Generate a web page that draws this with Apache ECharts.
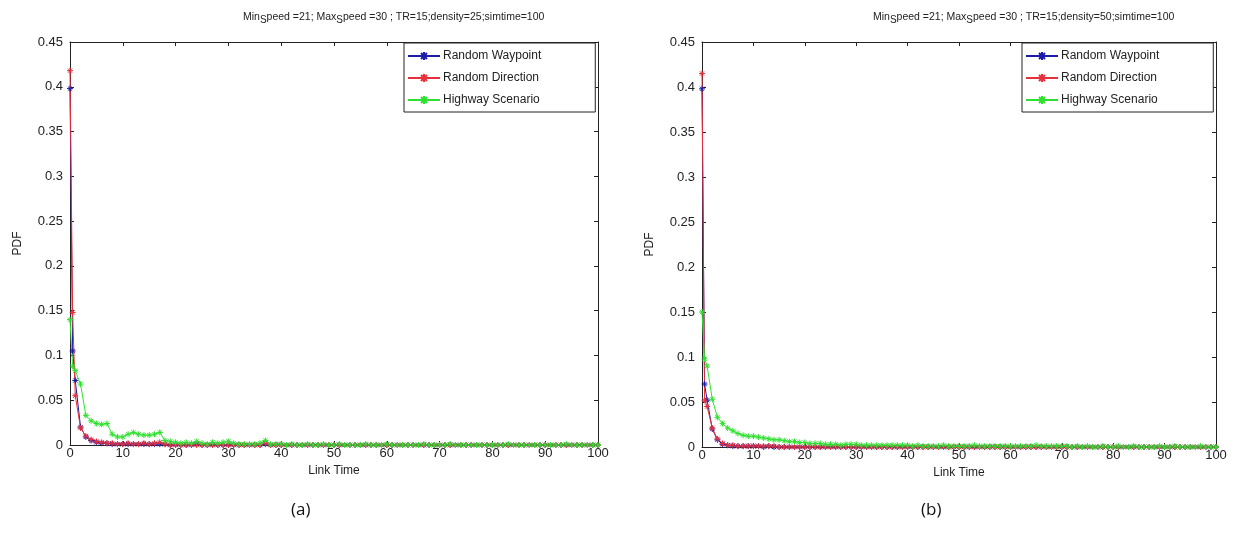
<!DOCTYPE html>
<html>
<head>
<meta charset="utf-8">
<script src="https://cdn.jsdelivr.net/npm/echarts@6/dist/echarts.min.js"></script>
<style>
    html, body { margin: 0; padding: 0; background: #fff; }
    #chart { width: 1234px; height: 545px; }
</style>
</head>
<body>
<div id="chart"></div>
<script>
// link time positions (first bin is split in two)
var xVals = [0, 0.5, 1, 2, 3, 4, 5, 6, 7, 8, 9,
    10, 11, 12, 13, 14, 15, 16, 17, 18, 19,
    20, 21, 22, 23, 24, 25, 26, 27, 28, 29,
    30, 31, 32, 33, 34, 35, 36, 37, 38, 39,
    40, 41, 42, 43, 44, 45, 46, 47, 48, 49,
    50, 51, 52, 53, 54, 55, 56, 57, 58, 59,
    60, 61, 62, 63, 64, 65, 66, 67, 68, 69,
    70, 71, 72, 73, 74, 75, 76, 77, 78, 79,
    80, 81, 82, 83, 84, 85, 86, 87, 88, 89,
    90, 91, 92, 93, 94, 95, 96, 97, 98, 99,
    100];

var seriesNames = ['Random Waypoint', 'Random Direction', 'Highway Scenario'];
var seriesColors = ['#1c1ca8', '#e8303a', '#30e030'];
var yTicks = [0, 0.05, 0.1, 0.15, 0.2, 0.25, 0.3, 0.35, 0.4, 0.45];
var xTicks = [0, 10, 20, 30, 40, 50, 60, 70, 80, 90, 100];

// (a) density = 25
var waypointA = [0.398, 0.105, 0.072, 0.020, 0.009, 0.005, 0.003, 0.002, 0.002, 0.001, 0.001,
    0.001, 0.001, 0.001, 0.001, 0.001, 0.001, 0.001, 0.001, 0.001, 0,
    0, 0, 0, 0, 0.001, 0, 0, 0, 0, 0,
    0, 0, 0, 0, 0, 0, 0, 0.001, 0, 0,
    0, 0, 0, 0, 0, 0, 0, 0, 0, 0,
    0, 0, 0, 0, 0, 0, 0, 0, 0, 0,
    0, 0, 0, 0, 0, 0, 0, 0, 0, 0,
    0, 0, 0, 0, 0, 0, 0, 0, 0, 0,
    0, 0, 0, 0, 0, 0, 0, 0, 0, 0,
    0, 0, 0, 0, 0, 0, 0, 0, 0, 0,
    0];
var directionA = [0.418, 0.148, 0.055, 0.019, 0.010, 0.006, 0.004, 0.003, 0.002, 0.002, 0.001,
    0.001, 0.002, 0.001, 0.001, 0.002, 0.001, 0.002, 0.003, 0.001, 0,
    0, 0, 0, 0, 0, 0, 0, 0, 0, 0,
    0, 0, 0, 0, 0, 0, 0, 0.002, 0, 0,
    0, 0, 0, 0, 0, 0, 0, 0, 0, 0,
    0, 0, 0, 0, 0, 0, 0, 0, 0, 0,
    0, 0, 0, 0, 0, 0, 0, 0, 0, 0,
    0, 0, 0, 0, 0, 0, 0, 0, 0, 0,
    0, 0, 0, 0, 0, 0, 0, 0, 0, 0,
    0, 0, 0, 0, 0, 0, 0, 0, 0, 0,
    0];
var highwayA = [0.140, 0.088, 0.083, 0.068, 0.033, 0.027, 0.024, 0.023, 0.024, 0.012, 0.009,
    0.009, 0.012, 0.014, 0.012, 0.011, 0.011, 0.012, 0.014, 0.005, 0.004,
    0.003, 0.002, 0.003, 0.002, 0.004, 0.002, 0.001, 0.003, 0.002, 0.003,
    0.004, 0.002, 0.001, 0.001, 0.001, 0.001, 0.002, 0.005, 0.001, 0.001,
    0.001, 0, 0.001, 0, 0, 0.001, 0, 0, 0.001, 0,
    0, 0.001, 0, 0, 0, 0, 0.001, 0, 0, 0,
    0.001, 0, 0, 0, 0, 0, 0, 0.001, 0, 0,
    0, 0, 0.001, 0, 0, 0, 0, 0, 0, 0,
    0, 0, 0, 0.001, 0, 0, 0, 0, 0, 0,
    0, 0, 0, 0, 0.001, 0, 0, 0, 0, 0,
    0];

// (b) density = 50
var waypointB = [0.398, 0.070, 0.052, 0.020, 0.008, 0.003, 0.002, 0.001, 0.001, 0.001, 0.001,
    0.001, 0.001, 0, 0.001, 0, 0, 0, 0, 0, 0,
    0, 0, 0, 0, 0, 0, 0, 0, 0, 0,
    0, 0, 0, 0, 0, 0, 0, 0, 0, 0,
    0, 0, 0, 0, 0, 0, 0, 0, 0, 0,
    0, 0, 0, 0, 0, 0, 0, 0, 0, 0,
    0, 0, 0, 0, 0, 0, 0, 0, 0, 0,
    0, 0, 0, 0, 0, 0, 0, 0, 0, 0,
    0, 0, 0, 0, 0, 0, 0, 0, 0, 0,
    0, 0, 0, 0, 0, 0, 0, 0, 0, 0,
    0];
var directionB = [0.415, 0.052, 0.045, 0.021, 0.009, 0.004, 0.002, 0.002, 0.001, 0.001, 0.001,
    0.001, 0.001, 0.001, 0.001, 0.001, 0, 0, 0, 0, 0,
    0, 0, 0, 0, 0, 0, 0, 0, 0, 0,
    0, 0, 0, 0, 0, 0, 0, 0, 0, 0,
    0, 0, 0, 0, 0, 0, 0, 0, 0, 0,
    0, 0, 0, 0, 0, 0, 0, 0, 0, 0,
    0, 0, 0, 0, 0, 0, 0, 0, 0, 0,
    0, 0, 0, 0, 0, 0, 0, 0, 0, 0,
    0, 0, 0, 0, 0, 0, 0, 0, 0, 0,
    0, 0, 0, 0, 0, 0, 0, 0, 0, 0,
    0];
var highwayB = [0.150, 0.098, 0.090, 0.053, 0.033, 0.026, 0.021, 0.018, 0.015, 0.013, 0.012,
    0.012, 0.011, 0.010, 0.009, 0.008, 0.008, 0.007, 0.006, 0.006, 0.005,
    0.005, 0.004, 0.004, 0.004, 0.003, 0.003, 0.003, 0.002, 0.003, 0.003,
    0.003, 0.002, 0.002, 0.002, 0.002, 0.002, 0.002, 0.002, 0.002, 0.002,
    0.002, 0.001, 0.002, 0.001, 0.001, 0.001, 0.001, 0.002, 0.001, 0.001,
    0.001, 0.001, 0.001, 0.002, 0.001, 0.001, 0.001, 0.001, 0.001, 0.001,
    0.001, 0.001, 0.001, 0.001, 0.001, 0.002, 0.001, 0.001, 0.001, 0.001,
    0.001, 0.001, 0, 0.001, 0, 0.001, 0, 0, 0.001, 0,
    0, 0.001, 0, 0, 0.001, 0, 0, 0, 0, 0.001,
    0, 0, 0.001, 0, 0, 0, 0, 0.001, 0, 0,
    0];

var titleA = 'Min{sub|S}peed =21; Max{sub|S}peed =30 ; TR=15;density=25;simtime=100';
var titleB = 'Min{sub|S}peed =21; Max{sub|S}peed =30 ; TR=15;density=50;simtime=100';

var FONT = '"Liberation Sans", Arial, sans-serif';
var starPath = 'path://M5,0L5,10M0,5L10,5M1.5,1.5L8.5,8.5M1.5,8.5L8.5,1.5';
// legend sample: short line with an asterisk in the middle
var legendPath = 'path://M0,5L32,5M16,1L16,9M12,5L20,5M13,2L19,8M13,8L19,2';

function toPairs(ys) {
    var out = [];
    for (var i = 0; i < xVals.length; i++) {
        out.push([xVals[i], ys[i]]);
    }
    return out;
}

function lineSeries(idx, ys, axisIdx) {
    return {
        name: seriesNames[idx],
        type: 'line',
        xAxisIndex: axisIdx,
        yAxisIndex: axisIdx,
        data: toPairs(ys),
        symbol: starPath,
        symbolSize: 6,
        showSymbol: true,
        animation: false,
        lineStyle: { color: seriesColors[idx], width: 1 },
        itemStyle: { color: seriesColors[idx], borderColor: seriesColors[idx], borderWidth: 1 }
    };
}

// bottom/left axes carry labels, top/right ones only close the box
function xAx(grid, pos, labels) {
    return {
        type: 'value', gridIndex: grid, position: pos,
        min: xTicks[0], max: xTicks[xTicks.length - 1], interval: 10,
        name: labels ? 'Link Time' : '', nameLocation: 'middle', nameGap: 13,
        nameTextStyle: { fontFamily: FONT, fontSize: 12, color: '#222', verticalAlign: 'top' },
        axisLine: { show: true, onZero: false, lineStyle: { color: '#222', width: 1 } },
        axisTick: { show: true, inside: true, length: 4, lineStyle: { color: '#222' } },
        axisLabel: { show: labels, margin: 2, fontFamily: FONT, fontSize: 13, color: '#222' },
        splitLine: { show: false }
    };
}

function yAx(grid, pos, labels) {
    return {
        type: 'value', gridIndex: grid, position: pos,
        min: yTicks[0], max: yTicks[yTicks.length - 1], interval: 0.05,
        name: labels ? 'PDF' : '', nameLocation: 'middle', nameGap: 46,
        nameTextStyle: { fontFamily: FONT, fontSize: 12, color: '#222' },
        axisLine: { show: true, onZero: false, lineStyle: { color: '#222', width: 1 } },
        axisTick: { show: true, inside: true, length: 4, lineStyle: { color: '#222' } },
        axisLabel: { show: labels, margin: 7, fontFamily: FONT, fontSize: 13, color: '#222' },
        splitLine: { show: false }
    };
}

function legendAt(left) {
    var items = [];
    for (var i = 0; i < seriesNames.length; i++) {
        items.push({ name: seriesNames[i], icon: legendPath });
    }
    return {
        left: left, top: 43,
        orient: 'vertical',
        backgroundColor: '#fff',
        borderColor: '#222', borderWidth: 1,
        padding: [7, 54, 6, 3],
        itemWidth: 32, itemHeight: 9, itemGap: 10,
        textStyle: { fontFamily: FONT, fontSize: 12, color: '#222', padding: [0, 0, 0, -2] },
        data: items
    };
}

function titleAt(text, left) {
    return {
        text: text, left: left, top: 4,
        textStyle: {
            fontFamily: FONT, fontSize: 10.5, fontWeight: 'normal', color: '#222',
            rich: { sub: { fontFamily: FONT, fontSize: 10, color: '#222', verticalAlign: 'bottom', padding: [6, 0, 0, 0] } }
        }
    };
}

var myChart = echarts.init(document.getElementById('chart'));
var option = {
    backgroundColor: '#fff',
    animation: false,
    title: [titleAt(titleA, 238), titleAt(titleB, 868)],
    legend: [legendAt(404), legendAt(1022)],
    grid: [
        { left: 70, right: 636, top: 42, bottom: 100 },
        { left: 702, right: 18, top: 42, bottom: 98 }
    ],
    xAxis: [xAx(0, 'bottom', true), xAx(1, 'bottom', true), xAx(0, 'top', false), xAx(1, 'top', false)],
    yAxis: [yAx(0, 'left', true), yAx(1, 'left', true), yAx(0, 'right', false), yAx(1, 'right', false)],
    series: [
        lineSeries(0, waypointA, 0),
        lineSeries(1, directionA, 0),
        lineSeries(2, highwayA, 0),
        lineSeries(0, waypointB, 1),
        lineSeries(1, directionB, 1),
        lineSeries(2, highwayB, 1)
    ],
    graphic: [
        { type: 'text', left: 291, top: 502, style: { text: '(a)', font: '17px "Open Sans", "Noto Sans", sans-serif', fill: '#111' } },
        { type: 'text', left: 921, top: 502, style: { text: '(b)', font: '17px "Open Sans", "Noto Sans", sans-serif', fill: '#111' } }
    ]
};
myChart.setOption(option);
</script>
</body>
</html>
